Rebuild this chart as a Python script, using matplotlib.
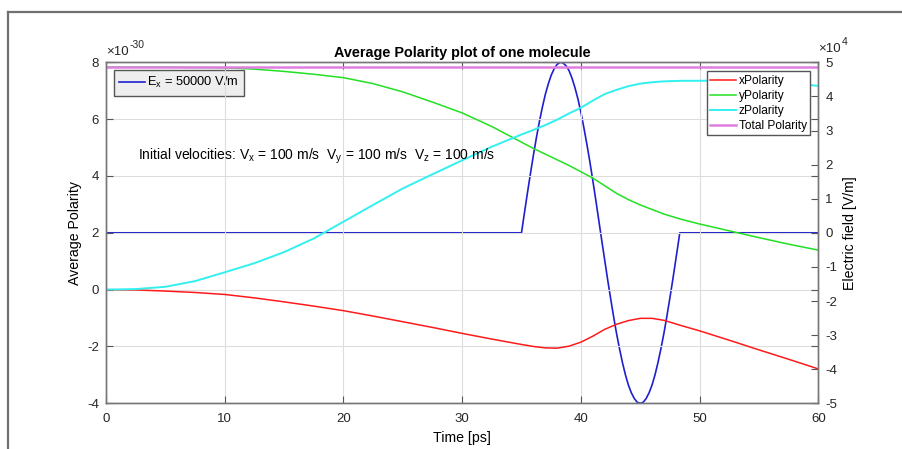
import matplotlib.pyplot as plt
from matplotlib.lines import Line2D

plt.rcParams['font.family'] = ['Liberation Sans', 'DejaVu Sans']
plt.rcParams['mathtext.fontset'] = 'custom'
plt.rcParams['mathtext.rm'] = 'Liberation Sans'
plt.rcParams['mathtext.it'] = 'Liberation Sans'
plt.rcParams['axes.unicode_minus'] = False

# polarity curves, units of 1e-30
t_pol = [0, 2.5, 5, 7.5, 10, 12.5, 15, 17.5, 20, 22.5, 25, 27.5, 30, 32.5, 35, 36, 37, 38, 39,
         40, 41, 42, 43, 44, 45, 46, 47, 48.5, 50, 52.5, 55, 57.5, 60]
x_pol = [0, -0.01, -0.05, -0.10, -0.17, -0.29, -0.43, -0.58, -0.74, -0.93, -1.13, -1.33, -1.54,
         -1.74, -1.93, -2.00, -2.05, -2.06, -1.99, -1.85, -1.64, -1.40, -1.22, -1.09, -1.01,
         -1.01, -1.08, -1.27, -1.45, -1.78, -2.12, -2.45, -2.79]
y_pol = [7.83, 7.83, 7.83, 7.82, 7.81, 7.76, 7.68, 7.58, 7.46, 7.25, 6.96, 6.60, 6.22, 5.74,
         5.19, 4.97, 4.77, 4.57, 4.37, 4.15, 3.93, 3.66, 3.39, 3.17, 2.98, 2.82, 2.66, 2.47,
         2.31, 2.07, 1.83, 1.60, 1.39]
z_pol = [0, 0.02, 0.10, 0.30, 0.61, 0.93, 1.32, 1.80, 2.39, 2.98, 3.56, 4.06, 4.55, 5.03, 5.46,
         5.62, 5.79, 5.98, 6.20, 6.40, 6.65, 6.88, 7.03, 7.16, 7.25, 7.30, 7.33, 7.35, 7.35,
         7.36, 7.35, 7.28, 7.17]
tot_pol = [7.83] * len(t_pol)

# electric field, units of 1e4 V/m
t_e = [0, 35, 35.25, 35.5, 35.75, 36, 36.25, 36.5, 36.75, 37, 37.25, 37.5, 37.75, 38, 38.25,
       38.5, 38.75, 39, 39.25, 39.5, 39.75, 40, 40.25, 40.5, 40.75, 41, 41.25, 41.5, 41.75, 42,
       42.25, 42.5, 42.75, 43, 43.25, 43.5, 43.75, 44, 44.25, 44.5, 44.75, 45, 45.25, 45.5,
       45.75, 46, 46.25, 46.5, 46.75, 47, 47.25, 47.5, 47.75, 48, 48.25, 48.33, 60]
e_x = [0, 0, 0.59, 1.17, 1.73, 2.27, 2.78, 3.25, 3.67, 4.05, 4.36, 4.62, 4.81, 4.94, 5.00,
       4.98, 4.90, 4.76, 4.54, 4.26, 3.93, 3.54, 3.09, 2.61, 2.10, 1.55, 0.98, 0.39, -0.20,
       -0.78, -1.36, -1.91, -2.44, -2.94, -3.39, -3.80, -4.16, -4.46, -4.69, -4.86, -4.97,
       -5.00, -4.97, -4.86, -4.69, -4.46, -4.16, -3.80, -3.39, -2.94, -2.44, -1.91, -1.36,
       -0.78, -0.20, 0, 0]

fig = plt.figure(figsize=(9.02, 4.49), dpi=100)
ax = fig.add_axes([0.1175, 0.1018, 0.7897, 0.7594])
ax2 = ax.twinx()

l1, = ax.plot(t_pol, x_pol, color='#ff1a1a', lw=1.1, label='xPolarity')
l2, = ax.plot(t_pol, y_pol, color='#22e022', lw=1.1, label='yPolarity')
l3, = ax.plot(t_pol, z_pol, color='#33f0f0', lw=1.4, label='zPolarity')
l4, = ax.plot(t_pol, tot_pol, color='#e07ee0', lw=1.8, label='Total Polarity')
le, = ax2.plot(t_e, e_x, color='#1f1fd0', lw=1.2, label='E$_x$ = 50000 V/m')

ax.set_xlim(0, 60)
ax.set_ylim(-4, 8)
ax2.set_ylim(-5, 5)
ax.set_xticks(range(0, 61, 10))
ax.set_yticks(range(-4, 9, 2))
ax2.set_yticks(range(-5, 6, 1))
ax.grid(True, color='#dddddd', lw=0.8)
ax.set_axisbelow(True)

for a in (ax, ax2):
    for s in a.spines.values():
        s.set_color('#777777')
        s.set_linewidth(1.0)
ax.tick_params(direction='in', length=5, color='#555555', labelsize=9.5, labelcolor='#262626',
               top=True, right=True, pad=5)
ax.tick_params(axis='x', pad=7)
ax2.tick_params(direction='in', length=5, color='#555555', labelsize=9.5, labelcolor='#262626',
                pad=5)

ax.set_title('Average Polarity plot of one molecule', fontsize=10.4, fontweight='bold', pad=4)
ax.set_xlabel('Time [ps]', fontsize=10.2, labelpad=4)
ax.set_ylabel('Average Polarity', fontsize=10.2, labelpad=4)
ax2.set_ylabel('Electric field [V/m]', fontsize=10.2, labelpad=4)

# exponent labels (hyphen minus, as in the original)
ax.text(0.0, 1.012, '\u00d710', transform=ax.transAxes, fontsize=9.5, color='#262626',
        ha='left', va='bottom')
ax.text(0.0325, 1.036, '-30', transform=ax.transAxes, fontsize=7.5, color='#262626',
        ha='left', va='bottom')
ax2.text(1.0, 1.022, '\u00d710', transform=ax2.transAxes, fontsize=9.5, color='#262626',
         ha='left', va='bottom')
ax2.text(1.0325, 1.046, '4', transform=ax2.transAxes, fontsize=7.5, color='#262626',
         ha='left', va='bottom')

ax.text(2.7, 4.7, 'Initial velocities: V$_x$ = 100 m/s  V$_y$ = 100 m/s  V$_z$ = 100 m/s',
        fontsize=10, va='center', ha='left')

leg1 = ax2.legend(handles=[le], loc='upper left', bbox_to_anchor=(0.011, 0.977), fontsize=9.3,
                  fancybox=False, framealpha=1, handlelength=2.0, handletextpad=0.2,
                  borderpad=0.4, borderaxespad=0)
leg1.get_frame().set_facecolor('#eeeeee')
leg1.get_frame().set_edgecolor('#555555')
leg2 = ax.legend(handles=[l1, l2, l3, l4], loc='upper right', bbox_to_anchor=(0.989, 0.974),
                 fontsize=8.6, fancybox=False, framealpha=1, handlelength=2.2,
                 handletextpad=0.2, borderpad=0.3, labelspacing=0.25, borderaxespad=0)
leg2.get_frame().set_edgecolor('#555555')
ax.set_zorder(ax2.get_zorder() + 1)
ax.patch.set_visible(False)

# window frame
fig.add_artist(Line2D([8 / 902, 8 / 902], [0, 1 - 12 / 449], transform=fig.transFigure,
                      color='#707070', lw=1.6))
fig.add_artist(Line2D([8 / 902, 1], [1 - 12 / 449, 1 - 12 / 449], transform=fig.transFigure,
                      color='#707070', lw=1.6))

fig.savefig('out.png', dpi=100)
